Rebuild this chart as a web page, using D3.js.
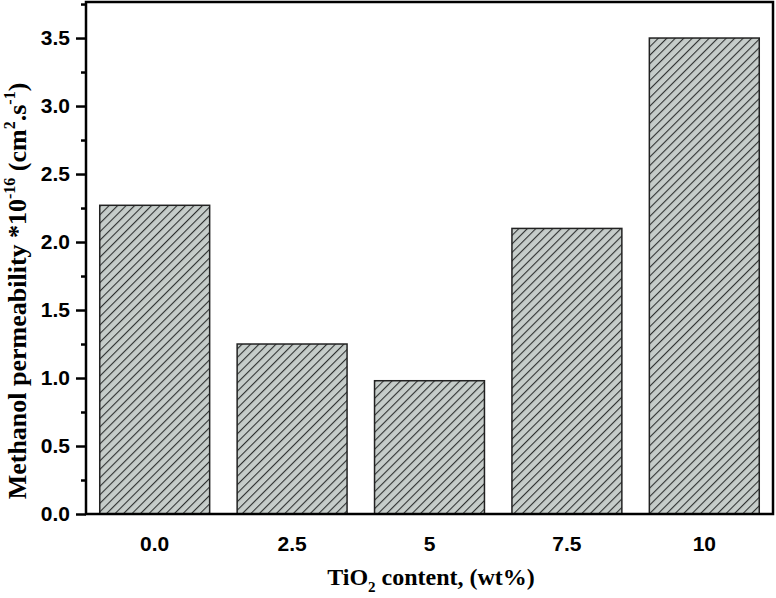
<!DOCTYPE html>
<html><head><meta charset="utf-8">
<script src="https://cdn.jsdelivr.net/npm/d3@7"></script>
<style>body{margin:0;background:#fff}svg{display:block}</style>
</head><body>
<svg id="c" width="776" height="598"></svg>
<script>
const categories = ["0.0", "2.5", "5", "7.5", "10"];
const values = [2.27, 1.25, 0.98, 2.1, 3.5];
const yTicks = [0, 0.5, 1.0, 1.5, 2.0, 2.5, 3.0, 3.5];
const yMinorTicks = [0.25, 0.75, 1.25, 1.75, 2.25, 2.75, 3.25, 3.75];

const svg = d3.select("#c");
const m = {l: 86, r: 773, t: 2, b: 514};
const x = d3.scaleBand().domain(categories).range([m.l, m.r]).paddingInner(0.2).paddingOuter(0.1);
const y = d3.scaleLinear().domain([0, 3.765]).range([m.b, m.t]);

const defs = svg.append("defs");
const pat = defs.append("pattern").attr("id", "hatch").attr("patternUnits", "userSpaceOnUse")
  .attr("width", 6).attr("height", 6).attr("patternTransform", "rotate(45)");
pat.append("rect").attr("width", 6).attr("height", 6).attr("fill", "#c6cdca");
pat.append("line").attr("x1", 0).attr("y1", 0).attr("x2", 0).attr("y2", 6)
  .attr("stroke", "#2e3130").attr("stroke-width", 2.2);

svg.append("g").selectAll("rect").data(values).join("rect")
  .attr("x", (d, i) => x(categories[i]))
  .attr("y", d => y(d))
  .attr("width", x.bandwidth())
  .attr("height", d => y(0) - y(d))
  .attr("fill", "url(#hatch)")
  .attr("stroke", "#222").attr("stroke-width", 1.5);

// frame
svg.append("rect").attr("x", m.l).attr("y", m.t).attr("width", m.r - m.l).attr("height", m.b - m.t)
  .attr("fill", "none").attr("stroke", "#000").attr("stroke-width", 2.5);

// y axis
const yAxis = d3.axisLeft(y).tickValues(yTicks).tickSize(10).tickPadding(6).tickFormat(d3.format(".1f"));
const gy = svg.append("g").attr("transform", `translate(${m.l},0)`).call(yAxis);
gy.select(".domain").remove();
gy.selectAll(".tick line").attr("stroke", "#000").attr("stroke-width", 2.5);
gy.selectAll(".tick text").attr("font-family", "Liberation Sans, Arial, sans-serif")
  .attr("font-weight", "bold").attr("font-size", 21).attr("fill", "#000");
const gym = svg.append("g").attr("transform", `translate(${m.l},0)`)
  .call(d3.axisLeft(y).tickValues(yMinorTicks).tickSize(5).tickFormat(""));
gym.select(".domain").remove();
gym.selectAll(".tick line").attr("stroke", "#000").attr("stroke-width", 2.5);

// x axis labels
const xAxis = d3.axisBottom(x).tickSize(0).tickPadding(22);
const gx = svg.append("g").attr("transform", `translate(0,${m.b})`).call(xAxis);
gx.select(".domain").remove();
gx.selectAll(".tick text").attr("font-family", "Liberation Sans, Arial, sans-serif")
  .attr("font-weight", "bold").attr("font-size", 21).attr("fill", "#000");

// x title
const xt = svg.append("text").attr("x", 431).attr("y", 585).attr("text-anchor", "middle")
  .attr("font-family", "Liberation Serif, Times New Roman, serif").attr("font-weight", "bold")
  .attr("font-size", 24).attr("fill", "#000");
xt.append("tspan").text("TiO");
xt.append("tspan").text("2").attr("font-size", 15).attr("dy", 7);
xt.append("tspan").text(" content, (wt%)").attr("dy", -7);

// y title
const yt = svg.append("text").attr("transform", "translate(26,291) rotate(-90)").attr("text-anchor", "middle")
  .attr("font-family", "Liberation Serif, Times New Roman, serif").attr("font-weight", "bold")
  .attr("font-size", 26).attr("fill", "#000");
yt.append("tspan").text("Methanol permeability *10");
yt.append("tspan").text("-16").attr("font-size", 16).attr("dy", -11);
yt.append("tspan").text(" (cm").attr("dy", 11);
yt.append("tspan").text("2").attr("font-size", 16).attr("dy", -11);
yt.append("tspan").text(".s").attr("dy", 11);
yt.append("tspan").text("-1").attr("font-size", 16).attr("dy", -11);
yt.append("tspan").text(")").attr("dy", 11);
</script>
</body></html>
